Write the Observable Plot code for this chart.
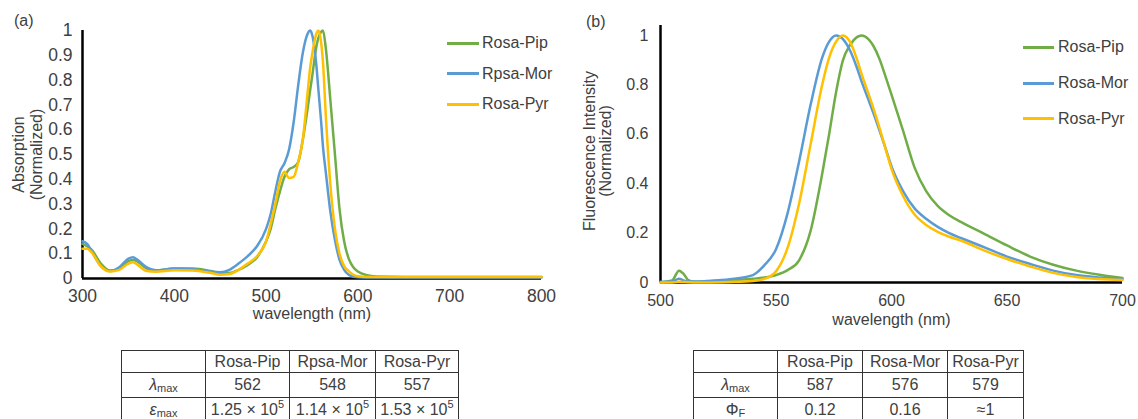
<!DOCTYPE html>
<html><head><meta charset="utf-8">
<script src="https://cdn.jsdelivr.net/npm/d3@7"></script>
<script src="https://cdn.jsdelivr.net/npm/@observablehq/plot@0.6"></script>
<style>
body{margin:0;background:#fff;font-family:"Liberation Sans",Arial,sans-serif;color:#404040;}
#root{position:relative;width:1138px;height:419px;overflow:hidden;}
.abs{position:absolute;}
.lbl{position:absolute;font-size:16px;line-height:18px;white-space:nowrap;color:#404040;}
.swatch{position:absolute;height:3px;}
table{position:absolute;border-collapse:collapse;font-size:16px;color:#404040;table-layout:fixed;}
td{border:1px solid #333;text-align:center;padding:0;white-space:nowrap;line-height:18px;}
sub{font-size:11px;vertical-align:-2px;line-height:0;}
sup{font-size:11px;vertical-align:7px;line-height:0;}
</style></head><body><div id="root"></div>
<script>
// ---------- Panel (a): absorption ----------
const absWavelength = [300,305,310,320,330,340,350,355,360,370,380,400,420,440,450,460,470,480,490,500,505,510,515,520,525,530,535,540,545,548,550,555,557,560,562,565,570,575,580,585,590,595,600,610,620,650,700,750,800];
const absPip = [0.14,0.13,0.115,0.06,0.032,0.04,0.07,0.075,0.068,0.04,0.032,0.04,0.04,0.03,0.022,0.022,0.035,0.055,0.085,0.15,0.2,0.28,0.35,0.41,0.44,0.45,0.47,0.56,0.68,0.76,0.81,0.94,0.97,0.995,1.0,0.93,0.72,0.5,0.28,0.15,0.08,0.045,0.028,0.013,0.008,0.006,0.006,0.006,0.006];
const absMor = [0.15,0.14,0.11,0.05,0.03,0.045,0.08,0.086,0.075,0.045,0.033,0.04,0.037,0.027,0.025,0.035,0.06,0.09,0.13,0.2,0.26,0.35,0.43,0.465,0.52,0.63,0.78,0.91,0.985,1.0,0.985,0.85,0.76,0.63,0.53,0.43,0.27,0.155,0.075,0.035,0.015,0.007,0.005,0.004,0.004,0.004,0.004,0.004,0.004];
const absPyr = [0.12,0.12,0.105,0.05,0.028,0.035,0.06,0.066,0.055,0.03,0.027,0.033,0.032,0.022,0.015,0.018,0.035,0.06,0.09,0.15,0.22,0.3,0.39,0.43,0.405,0.41,0.47,0.56,0.74,0.85,0.9,0.99,1.0,0.95,0.87,0.66,0.38,0.2,0.1,0.05,0.03,0.015,0.009,0.006,0.006,0.006,0.006,0.006,0.006];
const seriesA = ["Rosa-Pip","Rpsa-Mor","Rosa-Pyr"];
const absXTicks = [300,400,500,600,700,800];
const absYTicks = [0,0.1,0.2,0.3,0.4,0.5,0.6,0.7,0.8,0.9,1];

// ---------- Panel (b): fluorescence ----------
const flWavelength = [500,505,508,510,512,515,520,530,540,545,550,555,560,565,570,573,576,579,582,585,587,590,592,595,597,600,605,610,615,620,625,630,640,650,660,670,680,690,700];
const flPip = [0.0,0.008,0.048,0.035,0.01,0.003,0.005,0.01,0.015,0.02,0.03,0.05,0.09,0.21,0.44,0.6,0.77,0.9,0.96,0.993,1.0,0.985,0.96,0.9,0.845,0.76,0.615,0.465,0.37,0.31,0.272,0.245,0.198,0.15,0.105,0.072,0.048,0.031,0.018];
const flMor = [0.003,0.004,0.015,0.008,0.004,0.004,0.006,0.013,0.03,0.07,0.135,0.28,0.49,0.72,0.91,0.975,1.0,0.985,0.94,0.87,0.815,0.74,0.69,0.61,0.555,0.47,0.37,0.3,0.258,0.225,0.2,0.18,0.143,0.105,0.075,0.048,0.03,0.02,0.013];
const flPyr = [0.0,0.0,0.003,0.002,0.001,0.0,0.0,0.002,0.006,0.015,0.045,0.14,0.32,0.56,0.8,0.91,0.975,1.0,0.975,0.905,0.845,0.765,0.71,0.62,0.555,0.46,0.35,0.275,0.233,0.205,0.185,0.17,0.13,0.095,0.065,0.039,0.022,0.014,0.01];
const seriesB = ["Rosa-Pip","Rosa-Mor","Rosa-Pyr"];
const flXTicks = [500,550,600,650,700];
const flYTicks = [0,0.2,0.4,0.6,0.8,1];

const seriesColors = ["#70AD47","#5B9BD5","#FFC000"];

// ---------- Tables ----------
const tableHeadA = ["Rosa-Pip","Rpsa-Mor","Rosa-Pyr"];
const lambdaMaxA = ["562","548","557"];
const epsMantissaA = ["1.25","1.14","1.53"];
const epsExponentA = ["5","5","5"];
const tableHeadB = ["Rosa-Pip","Rosa-Mor","Rosa-Pyr"];
const lambdaMaxB = ["587","576","579"];
const phiF = ["0.12","0.16","≈1"];

function tidy(wl, names, vals) {
  const out = [];
  names.forEach((n, k) => wl.forEach((w, i) => out.push({wavelength: w, value: vals[k][i], series: n})));
  return out;
}
const absData = tidy(absWavelength, seriesA, [absPip, absMor, absPyr]);
const flData = tidy(flWavelength, seriesB, [flPip, flMor, flPyr]);

const styleFor = fs => ({fontFamily: '"Liberation Sans", Arial, sans-serif', fontSize: fs, color: "#404040", background: "transparent", overflow: "visible"});
const root = document.getElementById("root");

function place(el, left, top) {
  const d = document.createElement("div");
  d.className = "abs"; d.style.left = left + "px"; d.style.top = top + "px";
  d.appendChild(el); root.appendChild(d); return d;
}

const plotA = Plot.plot({
  width: 570, height: 330, marginLeft: 82, marginRight: 29, marginTop: 30, marginBottom: 52,
  style: styleFor("17.5px"),
  x: {domain: [300, 800], ticks: absXTicks, tickSize: 0, tickPadding: 11, label: null},
  y: {domain: [0, 1], ticks: absYTicks, tickSize: 0, tickPadding: 10, tickFormat: d3.format("~g"), label: null},
  color: {domain: seriesA, range: seriesColors},
  marks: [
    Plot.ruleY([0], {stroke: "#000", strokeWidth: 2.5}),
    Plot.ruleX([300], {stroke: "#000", strokeWidth: 2.5}),
    Plot.line(absData, {x: "wavelength", y: "value", stroke: "series", strokeWidth: 2.5, curve: "monotone-x"}),
    Plot.text(["Absorption\n(Normalized)"], {text: d => d, frameAnchor: "left", textAnchor: "middle", rotate: -90, dx: -55, lineHeight: 1.08, fontSize: 16}),
    Plot.text(["wavelength (nm)"], {text: d => d, frameAnchor: "bottom", dy: 40, fontSize: 16})
  ]
});
place(plotA, 0, 0);

const plotB = Plot.plot({
  width: 578, height: 330, marginLeft: 100, marginRight: 16, marginTop: 25, marginBottom: 48,
  style: styleFor("16px"),
  x: {domain: [500, 700], ticks: flXTicks, tickSize: 0, tickPadding: 12, label: null},
  y: {domain: [0, 1.04], ticks: flYTicks, tickSize: 0, tickPadding: 12, tickFormat: d3.format("~g"), label: null},
  color: {domain: seriesB, range: seriesColors},
  marks: [
    Plot.ruleY([0], {stroke: "#000", strokeWidth: 2.5}),
    Plot.ruleX([500], {stroke: "#000", strokeWidth: 2.5}),
    Plot.line(flData, {x: "wavelength", y: "value", stroke: "series", strokeWidth: 2.5, curve: "monotone-x"}),
    Plot.text(["Fluorescence Intensity\n(Normalized)"], {text: d => d, frameAnchor: "left", textAnchor: "middle", rotate: -90, dx: -63, dy: -3, lineHeight: 1.02, fontSize: 16}),
    Plot.text(["wavelength (nm)"], {text: d => d, frameAnchor: "bottom", dy: 42, fontSize: 16})
  ]
});
place(plotB, 560, 0);

// panel labels
function label(text, left, top) {
  const s = document.createElement("div");
  s.className = "lbl"; s.textContent = text; s.style.left = left + "px"; s.style.top = top + "px";
  root.appendChild(s);
}
label("(a)", 14, 12);
label("(b)", 586, 13);

// legends
function legend(names, lineX, lineW, textX, rows) {
  names.forEach((n, i) => {
    const sw = document.createElement("div");
    sw.className = "swatch"; sw.style.left = lineX + "px"; sw.style.width = lineW + "px";
    sw.style.top = (rows[i] - 1.5) + "px"; sw.style.background = seriesColors[i];
    root.appendChild(sw);
    label(n, textX, rows[i] - 9);
  });
}
legend(seriesA, 447, 32, 482, [43, 73.5, 104]);
legend(seriesB, 1023, 31, 1058, [47, 83, 118.5]);

// tables
function makeTable(left, colWidths, head, row1Label, row1, row2Label, row2) {
  const t = document.createElement("table");
  t.style.left = left + "px"; t.style.top = "350px";
  const cg = document.createElement("colgroup");
  colWidths.forEach(w => { const c = document.createElement("col"); c.style.width = w + "px"; cg.appendChild(c); });
  t.appendChild(cg);
  const heights = [22, 25, 24];
  const rows = [["", ...head], [row1Label, ...row1], [row2Label, ...row2]];
  rows.forEach((r, ri) => {
    const tr = document.createElement("tr");
    tr.style.height = heights[ri] + "px";
    r.forEach(c => { const td = document.createElement("td"); td.innerHTML = c; tr.appendChild(td); });
    t.appendChild(tr);
  });
  root.appendChild(t);
}
makeTable(121, [84, 84, 86, 83], tableHeadA,
  '<i>λ</i><sub>max</sub>', lambdaMaxA,
  '<i>ε</i><sub>max</sub>', epsMantissaA.map((m, i) => `${m} × 10<sup>${epsExponentA[i]}</sup>`));
makeTable(693, [84, 85, 85, 76], tableHeadB,
  '<i>λ</i><sub>max</sub>', lambdaMaxB,
  'Φ<sub>F</sub>', phiF);
</script></body></html>
